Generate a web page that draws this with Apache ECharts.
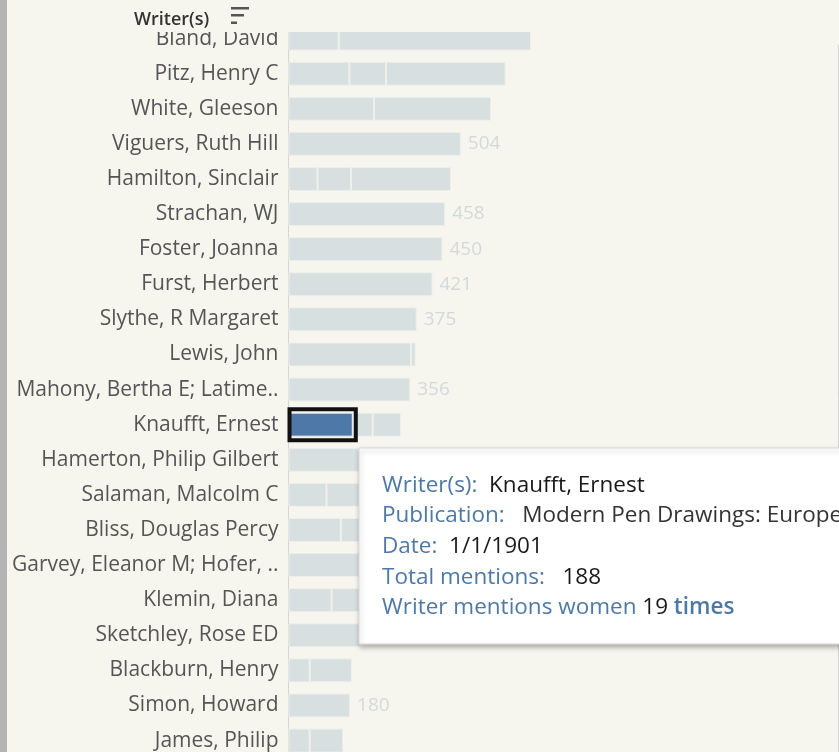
<!DOCTYPE html>
<html>
<head>
<meta charset="utf-8">
<script src="https://cdn.jsdelivr.net/npm/echarts@6/dist/echarts.min.js"></script>
<style>
  html, body { margin: 0; padding: 0; background: #f6f6ef; }
  #chart { width: 839px; height: 752px; }
</style>
</head>
<body>
<div id="chart"></div>
<script>
// Writers, sorted by total mentions (top to bottom)
const writers = [
  'Bland, David', 'Pitz, Henry C', 'White, Gleeson', 'Viguers, Ruth Hill',
  'Hamilton, Sinclair', 'Strachan, WJ', 'Foster, Joanna', 'Furst, Herbert',
  'Slythe, R Margaret', 'Lewis, John', 'Mahony, Bertha E; Latime..',
  'Knaufft, Ernest', 'Hamerton, Philip Gilbert', 'Salaman, Malcolm C',
  'Bliss, Douglas Percy', 'Garvey, Eleanor M; Hofer, ..', 'Klemin, Diana',
  'Sketchley, Rose ED', 'Blackburn, Henry', 'Simon, Howard', 'James, Philip'
];

// Mentions per publication (one stacked segment per publication)
const pub1 = [147, 178, 250, 504, 85, 458, 450, 421, 375, 358, 356, 188, 305, 111, 153, 245, 126, 212, 62, 180, 62];
const pub2 = [562, 107, 342, null, 98, null, null, null, null, 14, null, 58, null, 170, 105, null, 100, null, 124, null, 98];
const pub3 = [null, 350, null, null, 292, null, null, null, null, null, null, 83, null, null, null, null, null, null, null, null, null];

// Selected mark and its tooltip
const selWriter = 'Knaufft, Ernest';
const selPublication = 'Modern Pen Drawings: European and American';
const selDate = '1/1/1901';
const selMentions = 188;
const selWomen = 19;

const BG = '#f6f6ef';
const BAR = '#d8dfe0';
const SEL = '#4e78a8';
const FONT = '"Open Sans", "Noto Sans", sans-serif';

const selIdx = writers.indexOf(selWriter);

function seriesData(arr, isFirst) {
  return arr.map((v, i) => {
    if (v == null) return null;
    const item = { value: v };
    const single = pub2[i] == null && pub3[i] == null;
    if (isFirst && single) {
      item.label = { show: true };
    }
    if (isFirst && i === selIdx) {
      item.itemStyle = { color: SEL };
    }
    return item;
  });
}

const baseSeries = {
  type: 'bar',
  stack: 'total',
  barWidth: 24,
  itemStyle: { color: BAR, borderColor: '#eef0ea', borderWidth: 1 },
  label: {
    show: false,
    position: 'right',
    distance: 7,
    color: '#d3d9da',
    fontFamily: FONT,
    fontSize: 19
  },
  emphasis: { disabled: true },
  animation: false
};

const chart = echarts.init(document.getElementById('chart'), null, { renderer: 'canvas' });

const option = {
  backgroundColor: BG,
  animation: false,
  grid: {
    left: 288.5, top: 21, width: 513, height: 737.1,
    containLabel: false, outerBoundsMode: 'none'
  },
  xAxis: {
    type: 'value', min: 0, max: 1500, show: false
  },
  yAxis: {
    type: 'category',
    data: writers,
    inverse: true,
    axisLine: { show: true, lineStyle: { color: '#cfcfcf', type: 'dotted', width: 1 } },
    axisTick: { show: false },
    axisLabel: { color: '#555', fontFamily: FONT, fontSize: 21, margin: 10 },
    z: 0
  },
  series: [
    Object.assign({}, baseSeries, { name: 'pub1', data: seriesData(pub1, true) }),
    Object.assign({}, baseSeries, { name: 'pub2', data: seriesData(pub2, false) }),
    Object.assign({}, baseSeries, { name: 'pub3', data: seriesData(pub3, false) })
  ]
};
chart.setOption(option);

// Selection frame around the chosen segment, placed with the chart's own scales
const p0 = chart.convertToPixel({ gridIndex: 0 }, [0, selIdx]);
const p1 = chart.convertToPixel({ gridIndex: 0 }, [selMentions, selIdx]);

const tipX = 359, tipY = 448, tipW = 500, tipH = 196;
const TIP_SIZE = 22.5;
const rich = {
  l: { fill: '#4e79a7', fontFamily: FONT, fontSize: TIP_SIZE },
  v: { fill: '#1a1a1a', fontFamily: FONT, fontSize: TIP_SIZE },
  g: { fill: '#333', fontFamily: FONT, fontSize: TIP_SIZE },
  b: { fill: '#4e79a7', fontFamily: FONT, fontSize: TIP_SIZE, fontWeight: 600 }
};
const tipLines = [
  '{l|Writer(s):}  {v|' + selWriter + '}',
  '{l|Publication:}   {g|' + selPublication + '}',
  '{l|Date:}  {v|' + selDate + '}',
  '{l|Total mentions:}   {v|' + selMentions + '}',
  '{l|Writer mentions women} {v|' + selWomen + '} {b|times}'
];
const lineY = [486, 516, 547, 578, 608];

const graphics = [
  // header strip
  { type: 'rect', z: 90, shape: { x: 0, y: 0, width: 839, height: 32 }, style: { fill: BG } },
  { type: 'text', z: 91, x: 134, y: 20, style: { text: 'Writer(s)', fill: '#333', font: '600 18px ' + FONT, textVerticalAlign: 'middle' } },
  { type: 'rect', z: 91, shape: { x: 231, y: 7, width: 18, height: 2.5 }, style: { fill: '#555' } },
  { type: 'rect', z: 91, shape: { x: 231, y: 14, width: 13, height: 2.5 }, style: { fill: '#555' } },
  { type: 'rect', z: 91, shape: { x: 231, y: 21.5, width: 6, height: 2.5 }, style: { fill: '#555' } },
  // left panel edge
  { type: 'rect', z: 95, shape: { x: 0, y: 0, width: 7, height: 752 }, style: { fill: '#b4b4b4' } },
  // right border line
  { type: 'line', z: 95, shape: { x1: 838.5, y1: 45, x2: 838.5, y2: 752 }, style: { stroke: '#d2d2d2', lineWidth: 1 } },
  // selection frame
  { type: 'rect', z: 60, shape: { x: p0[0] + 1, y: p0[1] - 15.5, width: p1[0] - p0[0] + 2, height: 31 },
    style: { fill: 'none', stroke: '#111', lineWidth: 4 } },
  // tooltip box
  { type: 'rect', z: 100, shape: { x: tipX, y: tipY, width: tipW, height: tipH },
    style: { fill: '#fff', stroke: '#d9d9d9', lineWidth: 1, shadowBlur: 5, shadowColor: 'rgba(0,0,0,0.28)', shadowOffsetX: 1, shadowOffsetY: 3 } }
];
tipLines.forEach((t, i) => {
  graphics.push({ type: 'text', z: 101, x: 382, y: lineY[i],
    style: { text: t, rich: rich, textVerticalAlign: 'middle', font: TIP_SIZE + 'px ' + FONT } });
});

chart.setOption({ graphic: graphics });
</script>
</body>
</html>
